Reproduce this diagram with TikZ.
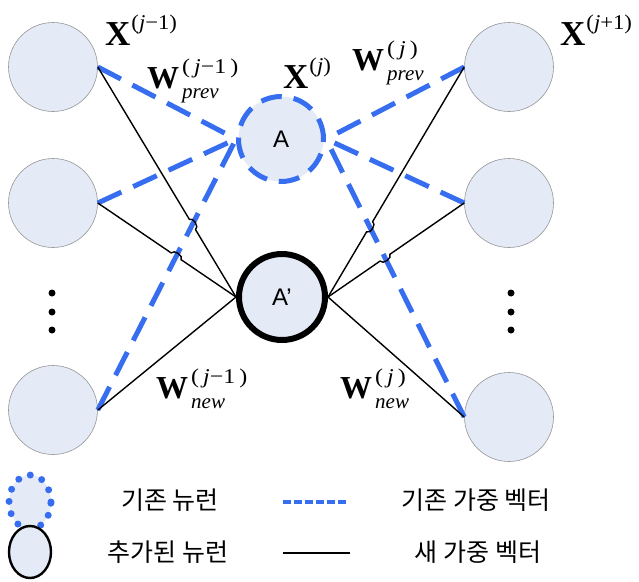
\documentclass[tikz,border=0pt]{standalone}
\usepackage{fontspec}
\setmainfont{Liberation Serif}
\setsansfont{Liberation Sans}
\newfontfamily\kor{Noto Sans CJK KR}
\usetikzlibrary{calc,intersections,shapes.geometric}
\definecolor{cell}{RGB}{228,234,246}
\definecolor{rim}{RGB}{150,150,150}
\definecolor{wire}{RGB}{55,110,240}
\definecolor{ink}{RGB}{0,0,0}
\newcommand{\scr}{\fontsize{21}{21}\selectfont}
\newcommand{\jsup}[1]{\scalebox{1.14}[1]{\scr(\,\textit{j}#1\,)}}
\newcommand{\xsup}[1]{\textbf{X}\kern1pt\raisebox{16pt}{\scalebox{1.08}[1]{\scr(\textit{j}#1)}}}
\newcommand{\wsup}[2]{\textbf{W}\kern3pt\raisebox{-10pt}{\scr\begin{tabular}[b]{@{}l@{}}\jsup{#1}\\[4pt]\textit{#2}\end{tabular}}}
\tikzset{
  neuron/.style={circle,draw=rim,line width=0.6pt,fill=cell,minimum size=89pt,inner sep=0pt},
  old neuron/.style={circle,draw=wire,line width=5pt,dash pattern=on 21pt off 12pt,fill=cell,
    minimum size=85pt,inner sep=0pt,font=\sffamily\fontsize{24}{28}\selectfont},
  new neuron/.style={circle,draw=ink,line width=6pt,fill=cell,minimum size=86pt,inner sep=0pt,
    font=\sffamily\fontsize{24}{28}\selectfont},
  oldw/.style={draw=wire,line width=5pt,dash pattern=on 26pt off 13pt},
  neww/.style={draw=ink,line width=1.4pt},
  xlab/.style={anchor=base west,inner sep=0pt,font=\fontsize{35}{40}\selectfont},
  wlab/.style={anchor=base west,inner sep=0pt,font=\fontsize{32}{37}\selectfont},
  legend/.style={font=\kor\fontsize{25}{30}\selectfont,inner sep=0pt},
}

\begin{document}
\begin{tikzpicture}[x=1pt,y=-1pt]
  \useasboundingbox (0,0) rectangle (639,581);
  % layers
  \foreach \n/\y in {1/67,2/203,3/410}
    \node[neuron] (L\n) at (53,\y) {};
  \foreach \n/\y in {1/67,2/203,3/417}
    \node[neuron] (R\n) at (509,\y) {};
  \foreach \x in {52,511}
    \foreach \y in {293,312,330}
      \fill (\x,\y) circle (3.5);
  \node[old neuron] (A) at (281,139) {A};
  \node[new neuron] (Ap) at (282,297) {A’};
  % old weights
  \foreach \n in {1,2,3}{
    \draw[oldw] (L\n.east) -- (A.west);
    \draw[oldw] (R\n.west) -- (A.east);
  }
  % new weights, hopping over the dashed ones
  \path[name path=bL] (L3.east) -- (A.west);
  \path[name path=bR] (R3.west) -- (A.east);
  \foreach \s/\a/\b in {L/east/west,R/west/east}{
    \foreach \n in {1,2}{
      \path[name path=k] (\s\n.\a) -- (Ap.\b);
      \path[name intersections={of=k and b\s,by=h}];
      \draw[neww] (\s\n.\a) -- ($(h)!6pt!(\s\n.\a)$) to[bend left=90] ($(h)!6pt!(Ap.\b)$) -- (Ap.\b);
    }
    \draw[neww] (\s3.\a) -- (Ap.\b);
  }
  % labels
  \node[xlab] (xa) at (105,45) {\xsup{−1}};
  \node[xlab] (xb) at (283,88) {\xsup{}};
  \node[xlab] (xc) at (560,45) {\xsup{+1}};
  \node[wlab] (wa) at (147,88) {\wsup{−1}{prev}};
  \node[wlab] (wb) at (352,70) {\wsup{}{prev}};
  \node[wlab] (wc) at (156,398) {\wsup{−1}{new}};
  \node[wlab] (wd) at (340,398) {\wsup{}{new}};
  % legend
  \node[ellipse,draw=wire,line width=7pt,dash pattern=on 0pt off 12.5pt,line cap=round,fill=cell,
    minimum width=42pt,minimum height=54pt,inner sep=0pt] (ko) at (30,502) {};
  \node[ellipse,draw=ink,line width=2.4pt,fill=cell,
    minimum width=42pt,minimum height=52pt,inner sep=0pt] (kn) at (30,552) {};
  \node[legend] (to) at (170,500) {기존 뉴런};
  \node[legend] (tn) at (168,552) {추가된 뉴런};
  \coordinate (la) at (283,502);
  \coordinate (lb) at (347,502);
  \coordinate (lc) at (283,553);
  \coordinate (ld) at (350,553);
  \draw[draw=wire,line width=4.5pt,dash pattern=on 8pt off 3pt] (la) -- (lb);
  \draw[draw=ink,line width=2.2pt] (lc) -- (ld);
  \node[legend] (two) at (476,500) {기존 가중 벡터};
  \node[legend] (twn) at (478,552) {새 가중 벡터};
\end{tikzpicture}
\end{document}
